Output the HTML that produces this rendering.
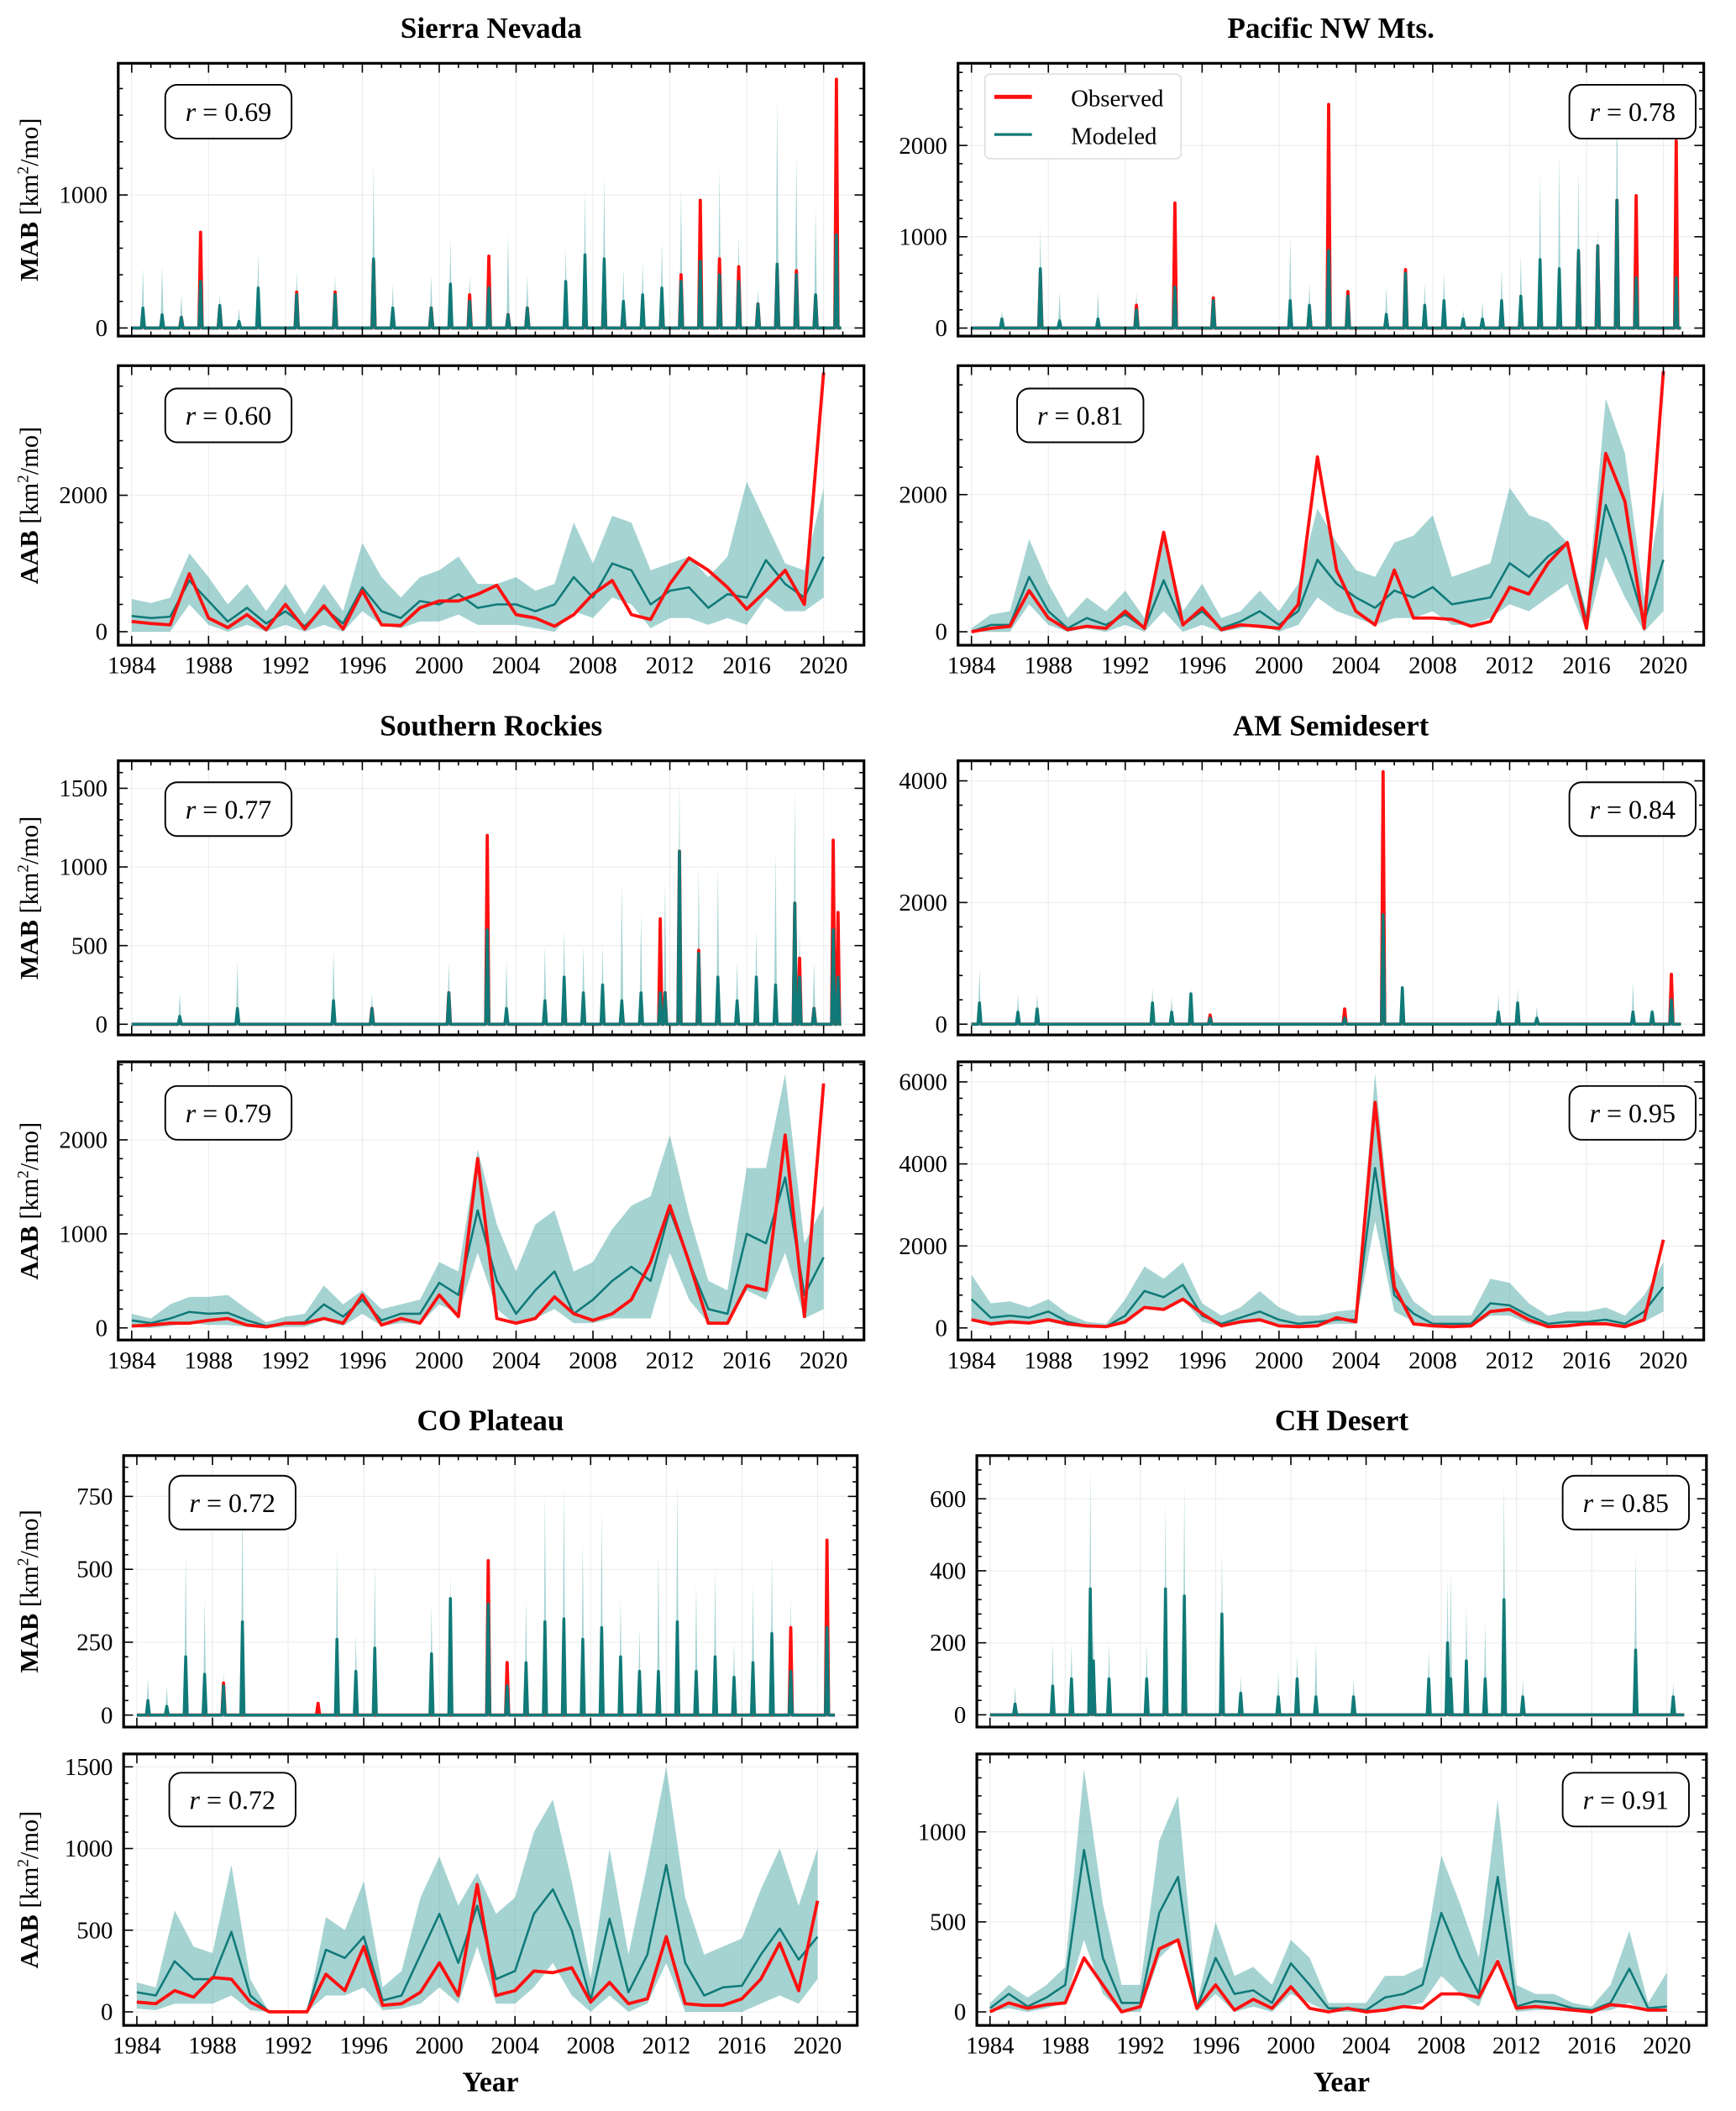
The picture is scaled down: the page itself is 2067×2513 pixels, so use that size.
<!DOCTYPE html>
<html><head><meta charset="utf-8"><title>MAB / AAB observed vs modeled</title>
<style>
html,body{margin:0;padding:0;background:#fff;}
svg{display:block;font-family:"Liberation Serif","DejaVu Serif",serif;}
</style></head>
<body>
<svg id="fig" xmlns="http://www.w3.org/2000/svg" width="2067" height="2513" viewBox="0 0 1292 1570.6"></svg>
<script>
// ---------- annual categories ----------
const years = [1984,1985,1986,1987,1988,1989,1990,1991,1992,1993,1994,1995,1996,1997,1998,1999,2000,2001,2002,2003,2004,2005,2006,2007,2008,2009,2010,2011,2012,2013,2014,2015,2016,2017,2018,2019,2020];
const xTickLabels = [1984,1988,1992,1996,2000,2004,2008,2012,2016,2020];

// ---------- Sierra Nevada ----------
const sierraAabObs = [150,120,100,850,200,60,250,30,400,40,380,40,600,100,90,350,450,450,550,680,250,200,80,250,550,750,250,180,700,1080,900,650,330,600,900,400,3800];
const sierraAabMod = [230,200,220,750,450,150,350,120,300,80,350,120,650,300,200,450,400,550,350,400,400,300,400,800,500,1000,900,400,600,650,350,550,500,1050,700,500,1100];
const sierraAabLo  = [0,0,0,400,100,0,100,0,100,0,100,0,300,100,50,150,150,250,100,100,100,50,0,300,200,500,400,50,200,200,100,200,100,500,300,300,500];
const sierraAabHi  = [480,420,500,1150,800,400,700,300,700,250,700,300,1300,800,500,800,900,1100,700,700,800,600,700,1600,1000,1700,1600,900,1000,1100,800,1100,2200,1600,1000,900,2100];
const sierraMabT   = [1984.6,1985.6,1986.6,1987.6,1988.6,1989.6,1990.6,1992.6,1994.6,1996.6,1997.6,1999.6,2000.6,2001.6,2002.6,2003.6,2004.6,2006.6,2007.6,2008.6,2009.6,2010.6,2011.6,2012.6,2013.6,2014.6,2015.6,2016.6,2017.6,2018.6,2019.6,2020.7];
const sierraMabObs = [30,50,80,720,150,30,50,270,270,500,100,150,100,250,540,100,150,150,150,400,150,100,200,400,960,520,460,180,450,430,240,1870];
const sierraMabMod = [150,100,80,350,170,50,300,250,250,520,150,150,330,200,300,100,150,350,550,520,200,250,300,350,500,400,350,180,480,400,250,700];
const sierraMabHi  = [450,470,250,700,250,150,560,430,400,1230,330,400,680,400,500,700,400,600,1040,1150,450,500,650,1050,1000,1200,700,300,1730,1300,900,1870];

// ---------- Pacific NW ----------
const pnwAabObs = [0,50,80,600,200,30,80,50,300,50,1450,100,350,30,100,80,50,400,2550,900,300,100,900,200,200,180,80,150,650,550,1000,1300,50,2600,1900,50,3800];
const pnwAabMod = [0,100,100,800,300,50,200,100,250,50,750,100,300,50,150,300,100,300,1050,700,500,350,600,500,650,400,450,500,1000,800,1100,1300,150,1850,1100,150,1050];
const pnwAabLo  = [0,0,0,400,100,0,50,0,100,0,300,0,100,0,50,100,0,100,500,300,200,100,200,200,300,100,100,200,400,300,500,700,0,1100,500,0,300];
const pnwAabHi  = [50,250,300,1350,700,200,500,300,600,200,1400,300,700,200,300,600,300,700,1800,1300,900,800,1300,1400,1700,800,900,1000,2100,1700,1600,1300,300,3400,2600,500,2100];
const pnwMabT   = [1985.6,1987.6,1988.6,1990.6,1992.6,1994.6,1996.6,2000.6,2001.6,2002.6,2003.6,2005.6,2006.6,2007.6,2008.6,2009.6,2010.6,2011.6,2012.6,2013.6,2014.6,2015.6,2016.6,2017.6,2018.6,2020.7];
const pnwMabObs = [50,600,30,0,250,1370,330,50,200,2450,400,100,640,100,100,50,30,200,200,350,200,820,900,1400,1450,2050];
const pnwMabMod = [100,650,80,100,200,450,300,300,250,850,350,150,600,250,300,100,100,300,350,750,650,850,900,1400,550,550];
const pnwMabHi  = [200,1100,400,400,400,900,400,1000,500,1250,450,450,700,500,600,200,300,650,800,1700,1900,1750,1100,2800,1200,2000];

// ---------- Southern Rockies ----------
const srAabObs = [20,30,50,50,80,100,30,10,50,50,100,50,350,30,100,50,350,120,1800,100,50,100,330,150,80,150,300,700,1300,700,50,50,450,400,2050,120,2600];
const srAabMod = [80,50,100,170,150,160,80,20,50,60,250,120,300,80,150,150,480,350,1250,500,150,400,600,150,300,500,650,500,1250,700,200,150,1000,900,1600,350,750];
const srAabLo  = [10,0,20,50,30,30,10,0,10,10,80,20,150,20,50,40,250,150,800,200,30,100,200,50,50,100,100,100,800,300,50,30,400,300,800,100,200];
const srAabHi  = [150,100,250,330,330,350,200,60,120,150,450,250,400,200,250,300,700,600,1900,1100,600,1100,1250,600,700,1050,1300,1400,2050,1200,500,400,1700,1700,2700,900,1300];
const srMabT   = [1986.5,1989.5,1994.5,1996.5,2000.5,2002.5,2003.5,2005.5,2006.5,2007.5,2008.5,2009.5,2010.5,2011.5,2011.75,2012.5,2013.5,2014.5,2015.5,2016.5,2017.5,2018.5,2018.75,2019.5,2020.5,2020.75];
const srMabObs = [20,30,50,100,200,1200,50,50,200,100,100,100,80,670,200,1100,470,100,50,100,50,770,420,100,1170,710];
const srMabMod = [50,100,150,100,200,600,100,150,300,200,250,150,200,200,200,1100,450,300,150,300,250,770,300,100,600,300];
const srMabHi  = [200,400,470,200,400,1000,400,500,600,500,500,900,700,500,900,1580,1000,1000,400,600,1100,1500,600,400,1000,700];

// ---------- AM Semidesert ----------
const amAabObs = [200,100,150,120,200,100,50,30,150,500,450,700,350,50,150,200,50,30,50,250,150,5500,1000,100,50,30,50,400,450,200,30,50,100,100,30,200,2150];
const amAabMod = [700,250,300,250,400,150,50,30,300,900,750,1050,300,100,250,400,200,100,150,200,200,3900,800,350,100,100,100,600,550,300,100,150,150,200,100,400,1000];
const amAabLo  = [200,50,100,100,150,50,0,0,100,500,450,700,150,30,100,150,100,30,50,100,100,2600,400,150,30,30,30,300,300,100,30,50,50,80,30,150,400];
const amAabHi  = [1300,600,650,500,700,350,150,100,700,1500,1200,1600,600,300,500,900,500,300,300,400,450,6200,1500,650,300,300,300,1200,1100,600,300,400,400,500,300,800,1600];
const amMabT   = [1984.4,1986.4,1987.4,1993.4,1994.4,1995.4,1996.4,2003.4,2005.4,2006.4,2011.4,2012.4,2013.4,2018.4,2019.4,2020.4];
const amMabObs = [50,50,50,100,50,100,150,250,4150,100,100,100,50,50,100,820];
const amMabMod = [350,200,250,350,200,500,100,100,1800,600,200,350,100,200,200,400];
const amMabHi  = [900,500,500,600,450,600,200,200,4100,600,500,600,300,700,300,700];

// ---------- CO Plateau ----------
const coAabObs = [60,50,130,90,210,200,60,0,0,0,230,130,400,40,50,120,300,100,780,100,130,250,240,270,60,180,50,80,460,50,40,40,80,200,420,130,680];
const coAabMod = [120,100,310,200,200,490,100,0,0,0,380,330,460,70,100,350,600,300,650,200,250,600,750,500,70,570,120,350,900,300,100,150,160,350,510,320,460];
const coAabLo  = [20,10,50,50,50,100,10,0,0,0,100,100,150,10,20,50,150,50,400,50,50,150,300,100,0,100,0,50,300,0,0,0,0,50,100,50,200];
const coAabHi  = [180,150,620,400,360,900,200,0,0,0,580,500,800,150,250,700,950,650,850,600,700,1100,1300,800,200,1000,350,900,1500,700,350,400,450,750,1000,650,1000];
const coMabT   = [1984.6,1985.6,1986.6,1987.6,1988.6,1989.6,1993.6,1994.6,1995.6,1996.6,1999.6,2000.6,2002.6,2003.6,2004.6,2005.6,2006.6,2007.6,2008.6,2009.6,2010.6,2011.6,2012.6,2013.6,2014.6,2015.6,2016.6,2017.6,2018.6,2020.5];
const coMabObs = [0,0,0,0,110,0,40,0,0,0,0,0,530,180,0,0,0,0,0,0,0,0,0,0,0,0,0,0,300,600];
const coMabMod = [50,30,200,140,100,320,0,260,150,230,210,400,380,100,180,320,330,260,300,200,150,150,320,150,200,130,180,280,150,300];
const coMabHi  = [130,100,550,400,150,760,0,570,280,520,380,480,450,150,400,760,790,600,700,400,300,550,800,450,500,250,450,550,400,500];

// ---------- CH Desert ----------
const chAabObs = [0,50,20,40,50,300,150,0,30,350,400,20,150,10,70,20,140,20,0,20,0,10,30,20,100,100,80,280,20,30,20,10,0,40,30,10,10];
const chAabMod = [20,100,30,80,150,900,300,50,50,550,750,20,300,100,120,50,270,150,20,20,10,80,100,150,550,300,100,750,30,60,50,20,10,50,240,20,30];
const chAabLo  = [0,20,0,20,50,400,100,0,0,300,400,0,100,0,30,0,100,50,0,0,0,20,30,50,200,100,30,300,0,10,10,0,0,10,50,0,0];
const chAabHi  = [50,150,80,150,250,1350,600,150,150,950,1200,50,500,200,250,150,400,300,50,50,50,200,200,250,870,600,300,1180,150,100,100,50,30,150,450,50,220];
const chMabT   = [1985.3,1987.3,1988.3,1989.3,1989.5,1990.3,1992.3,1993.3,1994.3,1996.3,1997.3,1999.3,2000.3,2001.3,2003.3,2007.3,2008.3,2008.5,2009.3,2010.3,2011.3,2012.3,2018.3,2020.3];
const chMabObs = [0,0,0,50,100,0,0,100,100,30,0,0,0,0,0,0,30,0,0,0,50,20,0,0];
const chMabMod = [30,80,100,350,150,100,100,350,330,280,60,50,100,50,50,100,200,100,150,100,320,50,180,50];
const chMabHi  = [80,200,200,690,250,200,200,590,640,450,110,120,170,200,100,180,380,400,300,260,650,100,450,90];

// ---------- layout ----------
const NS = 'http://www.w3.org/2000/svg';
const svg = document.getElementById('fig');
const RED = '#ff1010', TEAL = '#107a78', BAND = 'rgba(40,150,148,0.42)';
const XMIN = 1983.3, XMAX = 2022.1;

function el(tag, parent) { const e = document.createElementNS(NS, tag); parent.appendChild(e); return e; }

const panels = [
 {id:'sierra-mab', title:'Sierra Nevada', x0:88, x1:643, y0:47, y1:250, ymin:-61, ymax:1990, major:1000, minor:200, kind:'mab', T:sierraMabT, O:sierraMabObs, M:sierraMabMod, H:sierraMabHi, r:'0.69', rx:123, ry:63, ylabel:'MAB', legend:false},
 {id:'sierra-aab', x0:88, x1:643, y0:272, y1:480, ymin:-198, ymax:3900, major:2000, minor:400, kind:'aab', O:sierraAabObs, M:sierraAabMod, L:sierraAabLo, H:sierraAabHi, r:'0.60', rx:123, ry:289, ylabel:'AAB'},
 {id:'pnw-mab', title:'Pacific NW Mts.', x0:713, x1:1268, y0:47, y1:250, ymin:-88, ymax:2900, major:1000, minor:200, kind:'mab', T:pnwMabT, O:pnwMabObs, M:pnwMabMod, H:pnwMabHi, r:'0.78', rx:1168, ry:63, legend:true},
 {id:'pnw-aab', x0:713, x1:1268, y0:272, y1:480, ymin:-196, ymax:3880, major:2000, minor:400, kind:'aab', O:pnwAabObs, M:pnwAabMod, L:pnwAabLo, H:pnwAabHi, r:'0.81', rx:757, ry:289},
 {id:'sr-mab', title:'Southern Rockies', x0:88, x1:643, y0:566, y1:770, ymin:-68, ymax:1675, major:500, minor:100, kind:'mab', T:srMabT, O:srMabObs, M:srMabMod, H:srMabHi, r:'0.77', rx:123, ry:582, ylabel:'MAB'},
 {id:'sr-aab', x0:88, x1:643, y0:790, y1:997, ymin:-129, ymax:2830, major:1000, minor:200, kind:'aab', O:srAabObs, M:srAabMod, L:srAabLo, H:srAabHi, r:'0.79', rx:123, ry:808, ylabel:'AAB'},
 {id:'am-mab', title:'AM Semidesert', x0:713, x1:1268, y0:566, y1:770, ymin:-177, ymax:4330, major:2000, minor:400, kind:'mab', T:amMabT, O:amMabObs, M:amMabMod, H:amMabHi, r:'0.84', rx:1168, ry:582},
 {id:'am-aab', x0:713, x1:1268, y0:790, y1:997, ymin:-295, ymax:6490, major:2000, minor:400, kind:'aab', O:amAabObs, M:amAabMod, L:amAabLo, H:amAabHi, r:'0.95', rx:1168, ry:808},
 {id:'co-mab', title:'CO Plateau', x0:92, x1:638, y0:1083, y1:1285, ymin:-41, ymax:890, major:250, minor:50, kind:'mab', T:coMabT, O:coMabObs, M:coMabMod, H:coMabHi, r:'0.72', rx:126, ry:1098, ylabel:'MAB'},
 {id:'co-aab', x0:92, x1:638, y0:1305, y1:1507, ymin:-83, ymax:1579, major:500, minor:100, kind:'aab', O:coAabObs, M:coAabMod, L:coAabLo, H:coAabHi, r:'0.72', rx:126, ry:1319, ylabel:'AAB', xlabel:true},
 {id:'ch-mab', title:'CH Desert', x0:727, x1:1270, y0:1083, y1:1285, ymin:-34, ymax:720, major:200, minor:40, kind:'mab', T:chMabT, O:chMabObs, M:chMabMod, H:chMabHi, r:'0.85', rx:1163, ry:1098},
 {id:'ch-aab', x0:727, x1:1270, y0:1305, y1:1507, ymin:-75, ymax:1433, major:500, minor:100, kind:'aab', O:chAabObs, M:chAabMod, L:chAabLo, H:chAabHi, r:'0.91', rx:1163, ry:1319, xlabel:true}
];

function drawPanel(p) {
  const g = el('g', svg);
  
  
  const xs = v => p.x0 + (v - XMIN) / (XMAX - XMIN) * (p.x1 - p.x0);
  const ys = v => p.y1 - (v - p.ymin) / (p.ymax - p.ymin) * (p.y1 - p.y0);

  const cp = el('clipPath', g); cp.setAttribute('id', 'clip-' + p.id);
  const cr = el('rect', cp);
  cr.setAttribute('x', p.x0); cr.setAttribute('y', p.y0); cr.setAttribute('width', p.x1 - p.x0); cr.setAttribute('height', p.y1 - p.y0);

  const grid = el('g', g);
  
  
  grid.setAttribute('stroke', '#ececec'); grid.setAttribute('stroke-width', '0.7');
  for (let yr = 1984; yr <= 2020; yr += 4) {
    const l = el('line', grid); l.setAttribute('x1', xs(yr)); l.setAttribute('x2', xs(yr)); l.setAttribute('y1', p.y0); l.setAttribute('y2', p.y1);
  }
  for (let v = 0; v <= p.ymax; v += p.major) {
    const l = el('line', grid); l.setAttribute('x1', p.x0); l.setAttribute('x2', p.x1); l.setAttribute('y1', ys(v)); l.setAttribute('y2', ys(v));
  }

  const data = el('g', g);
  data.setAttribute('clip-path', 'url(#clip-' + p.id + ')');
  
  

  let tx, obs, mod, lo, hi;
  if (p.kind === 'aab') {
    tx = years.slice(); obs = p.O; mod = p.M; lo = p.L; hi = p.H;
  } else {
    tx = []; obs = []; mod = []; lo = []; hi = [];
    for (let m = 0; m < 444; m++) { tx.push(1984 + m / 12); obs.push(0); mod.push(0); lo.push(0); hi.push(0); }
    p.T.forEach((t, i) => {
      const idx = Math.round((t - 1984) * 12);
      obs[idx] = p.O[i]; mod[idx] = p.M[i]; hi[idx] = p.H[i];
    });
  }
  let d = '';
  tx.forEach((t, i) => { d += (i ? 'L' : 'M') + xs(t).toFixed(2) + ',' + ys(hi[i]).toFixed(2); });
  for (let i = tx.length - 1; i >= 0; i--) d += 'L' + xs(tx[i]).toFixed(2) + ',' + ys(lo[i]).toFixed(2);
  const band = el('path', data);
  
  
  band.setAttribute('d', d + 'Z'); band.setAttribute('fill', BAND); band.setAttribute('stroke', 'none');

  const lineOf = arr => arr.map((v, i) => xs(tx[i]).toFixed(2) + ',' + ys(v).toFixed(2)).join(' ');
  const ob = el('polyline', data);
  
  
  ob.setAttribute('points', lineOf(obs)); ob.setAttribute('fill', 'none'); ob.setAttribute('stroke', RED); ob.setAttribute('stroke-width', 2.4); ob.setAttribute('stroke-linejoin', 'round');
  const md = el('polyline', data);
  
  
  md.setAttribute('points', lineOf(mod)); md.setAttribute('fill', 'none'); md.setAttribute('stroke', TEAL); md.setAttribute('stroke-width', p.kind === 'aab' ? 1.6 : 2.2); md.setAttribute('stroke-linejoin', 'round');
  if (p.kind === 'aab') data.appendChild(ob);

  const tk = el('g', g);
  
  
  tk.setAttribute('stroke', '#000'); tk.setAttribute('stroke-width', '1');
  const tick = (x1, y1, x2, y2) => { const l = el('line', tk); l.setAttribute('x1', x1); l.setAttribute('y1', y1); l.setAttribute('x2', x2); l.setAttribute('y2', y2); };
  for (let yr = 1984; yr <= 2021; yr++) {
    const L = (yr % 4 === 0) ? 7 : 3.5, x = xs(yr);
    tick(x, p.y1, x, p.y1 - L); tick(x, p.y0, x, p.y0 + L);
  }
  for (let v = Math.ceil(p.ymin / p.minor) * p.minor; v <= p.ymax; v += p.minor) {
    const L = (Math.abs(v % p.major) < 1e-6) ? 7 : 3.5, y = ys(v);
    tick(p.x0, y, p.x0 + L, y); tick(p.x1, y, p.x1 - L, y);
  }
  for (let v = 0; v <= p.ymax; v += p.major) {
    const t = el('text', g);
    
    
    t.setAttribute('x', p.x0 - 8); t.setAttribute('y', ys(v) + 6); t.setAttribute('text-anchor', 'end'); t.setAttribute('font-size', '18');
    t.textContent = v;
  }
  if (p.kind === 'aab') {
    xTickLabels.forEach(yr => {
      const t = el('text', g);
      
      
      t.setAttribute('x', xs(yr)); t.setAttribute('y', p.y1 + 21); t.setAttribute('text-anchor', 'middle'); t.setAttribute('font-size', '18');
      t.textContent = yr;
    });
  }
  const fr = el('rect', g);
  
  
  fr.setAttribute('x', p.x0); fr.setAttribute('y', p.y0); fr.setAttribute('width', p.x1 - p.x0); fr.setAttribute('height', p.y1 - p.y0);
  fr.setAttribute('fill', 'none'); fr.setAttribute('stroke', '#000'); fr.setAttribute('stroke-width', '2');

  const rb = el('g', g);
  
  
  const rr = el('rect', rb);
  rr.setAttribute('x', p.rx); rr.setAttribute('y', p.ry); rr.setAttribute('width', 94); rr.setAttribute('height', 40); rr.setAttribute('rx', 9);
  rr.setAttribute('fill', '#fff'); rr.setAttribute('stroke', '#000'); rr.setAttribute('stroke-width', '1.2');
  const rt = el('text', rb);
  rt.setAttribute('x', p.rx + 47); rt.setAttribute('y', p.ry + 27); rt.setAttribute('text-anchor', 'middle'); rt.setAttribute('font-size', '20');
  rt.innerHTML = '<tspan font-style="italic">r</tspan> = ' + p.r;

  if (p.title) {
    const tt = el('text', svg);
    
    
    tt.setAttribute('x', (p.x0 + p.x1) / 2); tt.setAttribute('y', p.y0 - 19); tt.setAttribute('text-anchor', 'middle');
    tt.setAttribute('font-size', '22'); tt.setAttribute('font-weight', 'bold');
    tt.textContent = p.title;
  }
  if (p.ylabel) {
    const yl = el('text', svg);
    
    
    const cy = (p.y0 + p.y1) / 2;
    yl.setAttribute('transform', 'translate(28,' + cy + ') rotate(-90)');
    yl.setAttribute('text-anchor', 'middle'); yl.setAttribute('font-size', '19');
    yl.innerHTML = '<tspan font-weight="bold">' + p.ylabel + '</tspan> [km<tspan font-size="12" dy="-7">2</tspan><tspan dy="7">/mo]</tspan>';
  }
  if (p.xlabel) {
    const xl = el('text', svg);
    
    
    xl.setAttribute('x', (p.x0 + p.x1) / 2); xl.setAttribute('y', 1556); xl.setAttribute('text-anchor', 'middle');
    xl.setAttribute('font-size', '21'); xl.setAttribute('font-weight', 'bold');
    xl.textContent = 'Year';
  }
  if (p.legend) {
    const lg = el('g', svg);
    
    
    const lr = el('rect', lg);
    lr.setAttribute('x', 733); lr.setAttribute('y', 55); lr.setAttribute('width', 146); lr.setAttribute('height', 63); lr.setAttribute('rx', 4);
    lr.setAttribute('fill', '#fff'); lr.setAttribute('fill-opacity', '0.85'); lr.setAttribute('stroke', '#ddd');
    const e1 = el('line', lg);
    
    
    e1.setAttribute('x1', 740); e1.setAttribute('x2', 768); e1.setAttribute('y1', 72); e1.setAttribute('y2', 72); e1.setAttribute('stroke', RED); e1.setAttribute('stroke-width', 3);
    const t1 = el('text', lg); t1.setAttribute('x', 797); t1.setAttribute('y', 79); t1.setAttribute('font-size', '18'); t1.textContent = 'Observed';
    const e2 = el('line', lg);
    
    
    e2.setAttribute('x1', 740); e2.setAttribute('x2', 768); e2.setAttribute('y1', 100); e2.setAttribute('y2', 100); e2.setAttribute('stroke', TEAL); e2.setAttribute('stroke-width', 2);
    const t2 = el('text', lg); t2.setAttribute('x', 797); t2.setAttribute('y', 107); t2.setAttribute('font-size', '18'); t2.textContent = 'Modeled';
  }
}
panels.forEach(drawPanel);
</script>
</body></html>
